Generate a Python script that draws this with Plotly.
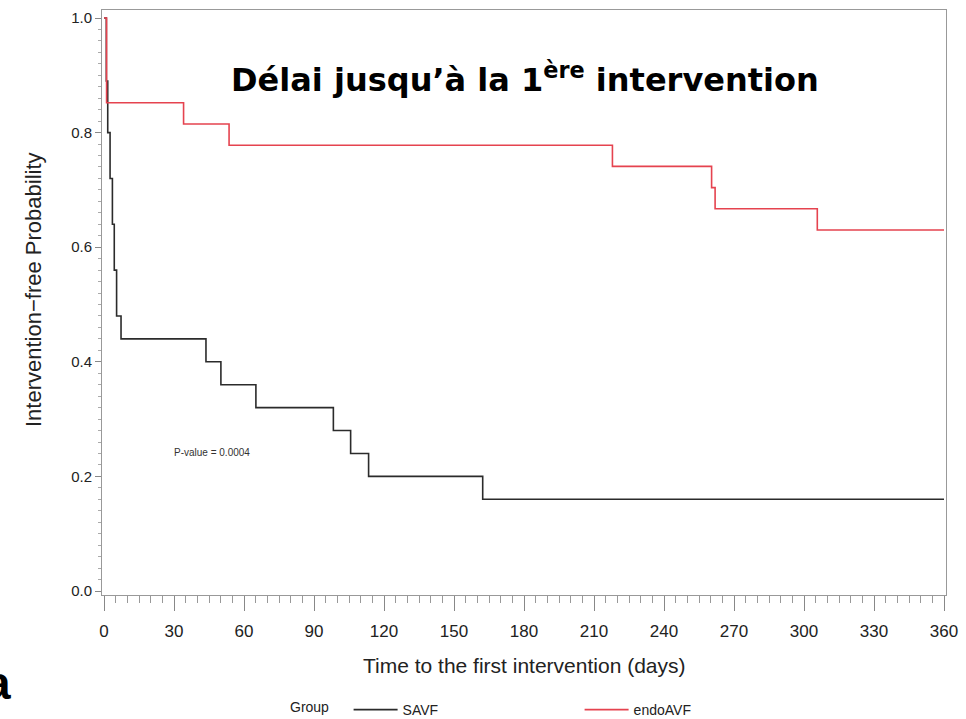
import plotly.graph_objects as go

# ---- data ----
savf_days = [0, 1.0, 1.6, 2.6, 3.6, 4.4, 5.4, 7.3, 43.7, 50.1, 65.1, 98.3, 105.7, 113.4, 162.3, 360]
savf_surv = [1.0, 0.89, 0.80, 0.72, 0.64, 0.56, 0.48, 0.44, 0.40, 0.36, 0.32, 0.28, 0.24, 0.20, 0.16, 0.16]

endo_days = [0, 1.1, 34.1, 53.6, 217.9, 260.4, 261.9, 305.7, 360]
endo_surv = [1.0, 0.852, 0.815, 0.778, 0.741, 0.704, 0.667, 0.630, 0.630]

x_ticks = [0, 30, 60, 90, 120, 150, 180, 210, 240, 270, 300, 330, 360]
y_ticks = [0.0, 0.2, 0.4, 0.6, 0.8, 1.0]
y_tick_labels = ["0.0", "0.2", "0.4", "0.6", "0.8", "1.0"]

title_text = "<b>Délai jusqu’à la 1<sup>ère</sup> intervention</b>"
x_title = "Time to the first intervention (days)"
y_title = "Intervention−free Probability"
p_text = "P-value = 0.0004"

SANS = "Liberation Sans, Arial, sans-serif"

fig = go.Figure()
fig.add_trace(go.Scatter(x=savf_days, y=savf_surv, mode="lines", name="SAVF",
                         line=dict(color="#2b2b2b", width=1.6, shape="hv")))
fig.add_trace(go.Scatter(x=endo_days, y=endo_surv, mode="lines", name="endoAVF",
                         line=dict(color="#e5434f", width=1.6, shape="hv")))

W, H = 966, 719
L, R, T, B = 102, 20, 10, 124
pw, ph = W - L - R, H - T - B

def px(xp):
    return (xp - L) / pw

def py(yp):
    return (H - B - yp) / ph

fig.update_layout(
    width=W, height=H,
    margin=dict(l=L, r=R, t=T, b=B, autoexpand=False),
    paper_bgcolor="white", plot_bgcolor="white",
    showlegend=True,
    legend=dict(
        orientation="h",
        xref="container", yref="container",
        title=dict(text="Group   ", font=dict(family=SANS, size=14, color="#222")),
        font=dict(family=SANS, size=14, color="#222"),
        x=288 / W, xanchor="left", y=1 - 710 / H, yanchor="middle",
        itemwidth=44,
        entrywidth=172, entrywidthmode="pixels",
        bgcolor="rgba(0,0,0,0)",
    ),
    xaxis=dict(
        range=[-0.857, 360.857], tickvals=x_ticks, ticktext=[str(v) for v in x_ticks],
        ticks="outside", ticklen=15, tickcolor="#888", tickwidth=1,
        showline=True, linecolor="#999", linewidth=1, mirror=True,
        showgrid=False, zeroline=False, automargin=False,
        tickfont=dict(family=SANS, size=17, color="#222"),
        ticklabelstandoff=6,
        minor=dict(dtick=5, tick0=0, ticks="outside", ticklen=7, tickcolor="#999", showgrid=False),
    ),
    yaxis=dict(
        range=[-0.00698, 1.01396], tickvals=y_ticks, ticktext=y_tick_labels,
        ticks="outside", ticklen=6, tickcolor="#888", tickwidth=1,
        showline=True, linecolor="#999", linewidth=1, mirror=True,
        showgrid=False, zeroline=False, automargin=False,
        tickfont=dict(family=SANS, size=15, color="#222"),
        minor=dict(dtick=0.02, tick0=0, ticks="outside", ticklen=3, tickcolor="#aaa", showgrid=False),
    ),
)

fig.add_annotation(text=title_text, xref="paper", yref="paper",
                   x=px(525), y=py(78), xanchor="center", yanchor="middle",
                   showarrow=False, font=dict(family="DejaVu Sans", size=32, color="black"))
fig.add_annotation(text=p_text, xref="x", yref="y", x=46.3, y=0.241,
                   xanchor="center", yanchor="middle", showarrow=False,
                   font=dict(family=SANS, size=10, color="#333"))
fig.add_annotation(text=x_title, xref="paper", yref="paper",
                   x=px(524), y=py(665), xanchor="center", yanchor="middle",
                   showarrow=False, font=dict(family=SANS, size=21, color="#222"))
fig.add_annotation(text=y_title, xref="paper", yref="paper",
                   x=px(33), y=py(290), xanchor="center", yanchor="middle", textangle=-90,
                   showarrow=False, font=dict(family=SANS, size=22, color="#222"))
fig.add_annotation(text="<b>a</b>", xref="paper", yref="paper",
                   x=px(13), y=py(683), xanchor="right", yanchor="middle",
                   showarrow=False, font=dict(family=SANS, size=46, color="black"))

fig.write_html("out.html", config={"displayModeBar": False},
               post_script="document.body.style.margin='0px';document.body.style.overflow='hidden';")
